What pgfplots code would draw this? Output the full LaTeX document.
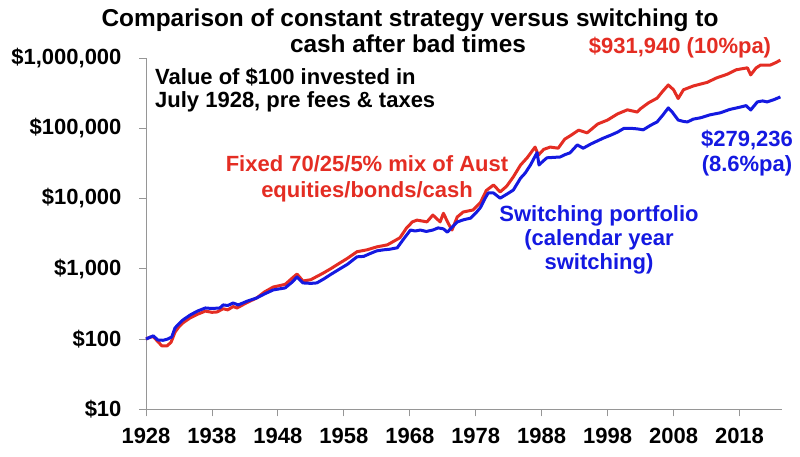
\documentclass[border=0pt]{standalone}
\usepackage{fontspec}
\setmainfont{Liberation Sans}
\usepackage{pgfplots}
\pgfplotsset{compat=1.18}
\definecolor{fixred}{RGB}{228,45,35}
\definecolor{swblue}{RGB}{20,25,225}
\definecolor{axgray}{RGB}{150,150,150}

\begin{document}
\begin{tikzpicture}
\useasboundingbox (0pt,0pt) rectangle (800pt,456pt);
\begin{axis}[
    at={(146pt,46.7pt)}, anchor=south west,
    scale only axis,
    width=635.7pt, height=351.3pt,
    ymode=log, ymin=10, ymax=1000000,
    xmin=1928, xmax=2024.4,
    axis lines=left,
    axis line style={-, draw=axgray, line width=0.8pt},
    tick align=outside,
    major tick length=7pt,
    tick style={axgray, line width=0.8pt},
    xminorticks=false, yminorticks=false,
    xtick={1928,1938,1948,1958,1968,1978,1988,1998,2008,2018},
    xticklabels={1928,1938,1948,1958,1968,1978,1988,1998,2008,2018},
    ytick={10,100,1000,10000,100000,1000000},
    yticklabels={{\$10},{\$100},{\$1,000},{\$10,000},{\$100,000},{\$1,000,000}},
    ticklabel style={font=\bfseries\fontsize{22}{22}\selectfont},
    yticklabel style={xshift=-14pt},
    xticklabel style={yshift=-8pt},
    clip=false,
]
% fixed 70/25/5 mix
\addplot[fixred, line width=3pt, line join=round] coordinates {
(1928.0,100) (1928.6,106) (1929.1,108) (1929.8,92) (1930.4,80) (1931.2,80)
(1931.8,90) (1932.4,125) (1933.0,150) (1933.6,170) (1934.7,200) (1935.8,225)
(1937.0,250) (1938.0,240) (1938.8,243) (1939.7,270) (1940.4,260) (1941.2,290)
(1941.8,277) (1943.3,330) (1944.8,385) (1946.0,470) (1947.3,550) (1949.1,600)
(1950.2,740) (1950.9,842) (1951.8,670) (1953.0,700) (1954.9,871) (1956.0,1000)
(1957.4,1210) (1958.5,1400) (1960.0,1750) (1961.5,1860) (1963.0,2050) (1964.6,2190)
(1966.5,2760) (1967.5,3800) (1968.4,4650) (1969.1,4930) (1970.6,4650) (1971.5,5820)
(1972.6,4650) (1973.1,6170) (1973.8,4500) (1974.4,3560) (1975.2,5460) (1976.1,6430)
(1977.6,6870) (1978.7,8700) (1979.6,13000) (1980.7,15600) (1981.7,12400) (1982.7,15000)
(1983.7,20300) (1984.8,30000) (1985.8,38000) (1987.0,54000) (1987.5,41500) (1988.3,50000)
(1989.3,54000) (1990.5,52000) (1991.5,70000) (1992.5,80000) (1993.6,94000) (1994.9,86000)
(1996.5,115000) (1998.0,131000) (1999.5,160000) (2001.0,183000) (2002.5,170000) (2003.0,190000)
(2004.2,230000) (2005.5,268000) (2006.4,340000) (2007.2,413000) (2008.0,353000) (2008.7,265000)
(2009.5,353000) (2011.0,400000) (2013.1,450000) (2014.5,520000) (2016.2,590000) (2017.5,680000)
(2019.2,725000) (2019.7,575000) (2020.5,720000) (2021.2,795000) (2022.7,795000) (2023.5,860000)
(2024.2,931940)
};
% switching portfolio
\addplot[swblue, line width=3pt, line join=round] coordinates {
(1928.0,100) (1928.6,106) (1929.1,111) (1929.8,97) (1930.6,96) (1931.3,100)
(1931.9,107) (1932.4,144) (1933.0,165) (1933.6,187) (1934.7,220) (1935.8,250)
(1937.0,277) (1938.0,272) (1939.2,277) (1939.7,306) (1940.4,300) (1941.2,326)
(1942.0,306) (1943.3,345) (1944.8,385) (1946.0,440) (1947.3,500) (1949.1,534)
(1950.2,650) (1950.9,766) (1951.8,629) (1953.0,620) (1953.9,629) (1955.0,720)
(1955.9,818) (1957.4,998) (1958.5,1150) (1960.0,1480) (1961.0,1500) (1962.0,1650)
(1963.0,1800) (1964.0,1860) (1965.0,1900) (1966.1,1990) (1967.0,2600) (1968.1,3560)
(1968.8,3450) (1969.6,3560) (1970.5,3400) (1971.5,3560) (1972.3,3820) (1973.1,3700)
(1973.7,3320) (1974.5,4000) (1975.2,4640) (1976.2,5000) (1977.2,5250) (1978.0,6200)
(1978.7,7400) (1979.4,10000) (1979.9,12000) (1980.7,12000) (1981.7,10100) (1982.7,11500)
(1983.7,13200) (1984.8,19500) (1985.5,23000) (1986.3,30000) (1987.3,45000) (1987.6,30000)
(1988.2,34000) (1988.8,38000) (1989.8,38500) (1990.8,39000) (1991.5,42000) (1992.3,44700)
(1993.4,58000) (1994.3,52000) (1995.5,60000) (1997.3,72000) (1998.5,80000) (1999.5,88000)
(2000.5,100000) (2001.4,100000) (2002.5,98000) (2003.4,95000) (2004.5,110000) (2005.5,123000)
(2006.4,155000) (2007.2,195000) (2007.8,170000) (2008.7,131000) (2009.5,125000) (2010.1,123000)
(2011.0,135000) (2012.1,141000) (2013.5,155000) (2015.1,166000) (2016.5,185000) (2018.1,200000)
(2019.0,210000) (2019.7,182000) (2020.7,237000) (2021.5,245000) (2022.2,237000) (2023.2,255000)
(2024.2,279236)
};
\end{axis}
% title
\node[anchor=base, inner sep=0pt, font=\bfseries\fontsize{24.4}{24.4}\selectfont] at (410pt,429pt) {Comparison of constant strategy versus switching to};
\node[anchor=base, inner sep=0pt, font=\bfseries\fontsize{24.4}{24.4}\selectfont] at (408pt,403pt) {cash after bad times};
% annotations
\node[anchor=base west, inner sep=0pt, font=\bfseries\fontsize{22}{22}\selectfont] at (155pt,371pt) {Value of \$100 invested in};
\node[anchor=base west, inner sep=0pt, font=\bfseries\fontsize{22}{22}\selectfont] at (155pt,348pt) {July 1928, pre fees \& taxes};
\node[anchor=base, inner sep=0pt, text=fixred, font=\bfseries\fontsize{22}{22}\selectfont] at (367pt,285pt) {Fixed 70/25/5\% mix of Aust};
\node[anchor=base, inner sep=0pt, text=fixred, font=\bfseries\fontsize{22}{22}\selectfont] at (367pt,259pt) {equities/bonds/cash};
\node[anchor=base, inner sep=0pt, text=fixred, font=\bfseries\fontsize{22}{22}\selectfont] at (680pt,402pt) {\$931,940 (10\%pa)};
\node[anchor=base, inner sep=0pt, text=swblue, font=\bfseries\fontsize{22}{22}\selectfont] at (599pt,235pt) {Switching portfolio};
\node[anchor=base, inner sep=0pt, text=swblue, font=\bfseries\fontsize{22}{22}\selectfont] at (599pt,211pt) {(calendar year};
\node[anchor=base, inner sep=0pt, text=swblue, font=\bfseries\fontsize{22}{22}\selectfont] at (599pt,187pt) {switching)};
\node[anchor=base, inner sep=0pt, text=swblue, font=\bfseries\fontsize{22}{22}\selectfont] at (747pt,309pt) {\$279,236};
\node[anchor=base, inner sep=0pt, text=swblue, font=\bfseries\fontsize{22}{22}\selectfont] at (747pt,285pt) {(8.6\%pa)};
\end{tikzpicture}
\end{document}
